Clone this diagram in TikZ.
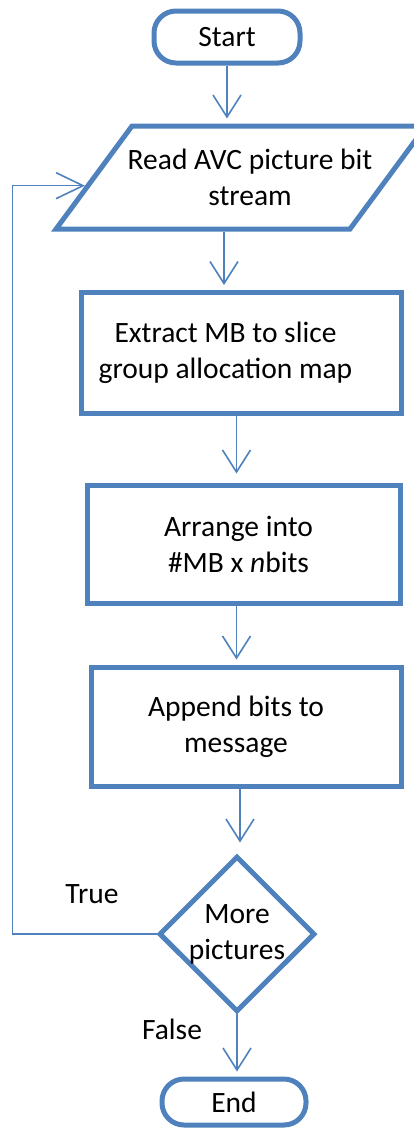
\documentclass[tikz,border=0pt]{standalone}
\usepackage{fontspec}
\setmainfont{Carlito}
\usetikzlibrary{shapes.geometric,arrows.meta}
\definecolor{flowblue}{HTML}{4F81BD}
\tikzset{
    box/.style={draw=flowblue, line width=5pt, shape=rectangle, inner sep=0pt,
        align=center, font=\fontsize{29.5pt}{36pt}\selectfont},
    term/.style={box, rounded corners=22pt},
    io/.style={box, shape=trapezium, inner xsep=109pt, inner ysep=51.5pt,
        trapezium left angle=53.6, trapezium right angle=126.4},
    test/.style={box, shape=diamond},
    txt/.style={align=center, inner sep=0pt, font=\fontsize{29.5pt}{36pt}\selectfont},
    flow/.style={draw=flowblue, line width=1.6pt,
        -{Straight Barb[length=22pt,width=28pt]}, shorten >=5pt},
}

\begin{document}
\begin{tikzpicture}[x=1pt, y=1pt]
    \useasboundingbox (0, 0) rectangle (414, -1130);

    \node (start) [term, minimum width=146pt, minimum height=52pt] at (227, -37) {Start};
    \node (read) [io, label={[txt, xshift=9pt]center:{Read AVC picture bit\\stream}}] at (241, -177.5) {};
    \node (extract) [box, minimum width=320pt, minimum height=121pt,
        label={[txt, xshift=-16pt]center:{Extract MB to slice\\group allocation map}}] at (241.5, -353) {};
    \node (arrange) [box, minimum width=313pt, minimum height=118pt,
        label={[txt, xshift=-5pt]center:{Arrange into\\\#MB x \textit{n}bits}}] at (243.5, -544) {};
    \node (append) [box, minimum width=310pt, minimum height=119pt,
        label={[txt, xshift=-10pt]center:{Append bits to\\message}}] at (246, -726.5) {};
    \node (more) [test, minimum width=156pt, minimum height=152pt] at (237, -934) {More\\pictures};
    \node (finish) [term, minimum width=144pt, minimum height=46pt] at (234, -1102) {End};

    \node (truelbl) [txt, anchor=base] at (92, -903) {True};
    \node (falselbl) [txt, anchor=base] at (172, -1039) {False};

    % main flow
    \coordinate (r1) at ([xshift=-17pt]read.south);
    \coordinate (e1) at ([xshift=-5pt]extract.south);
    \coordinate (a1) at ([xshift=-7pt]arrange.south);
    \coordinate (p1) at ([xshift=-6pt]append.south);
    \draw [flow] (start.south) -- (start.south |- read.north);
    \draw [flow] (r1) -- (r1 |- extract.north);
    \draw [flow, shorten >=9pt] (e1) -- (e1 |- arrange.north);
    \draw [flow] (a1) -- (a1 |- append.north);
    \draw [flow, shorten >=11pt] (p1) -- (p1 |- more.north);
    \draw [flow] (more.south) -- (more.south |- finish.north);

    % loop back
    \coordinate (loop) at ([xshift=-144pt]more.west);
    \draw [flow, -{Straight Barb[length=27pt,width=26pt]}, shorten >=0pt]
        (more.west) -- (loop) |- (read.183);
\end{tikzpicture}
\end{document}
